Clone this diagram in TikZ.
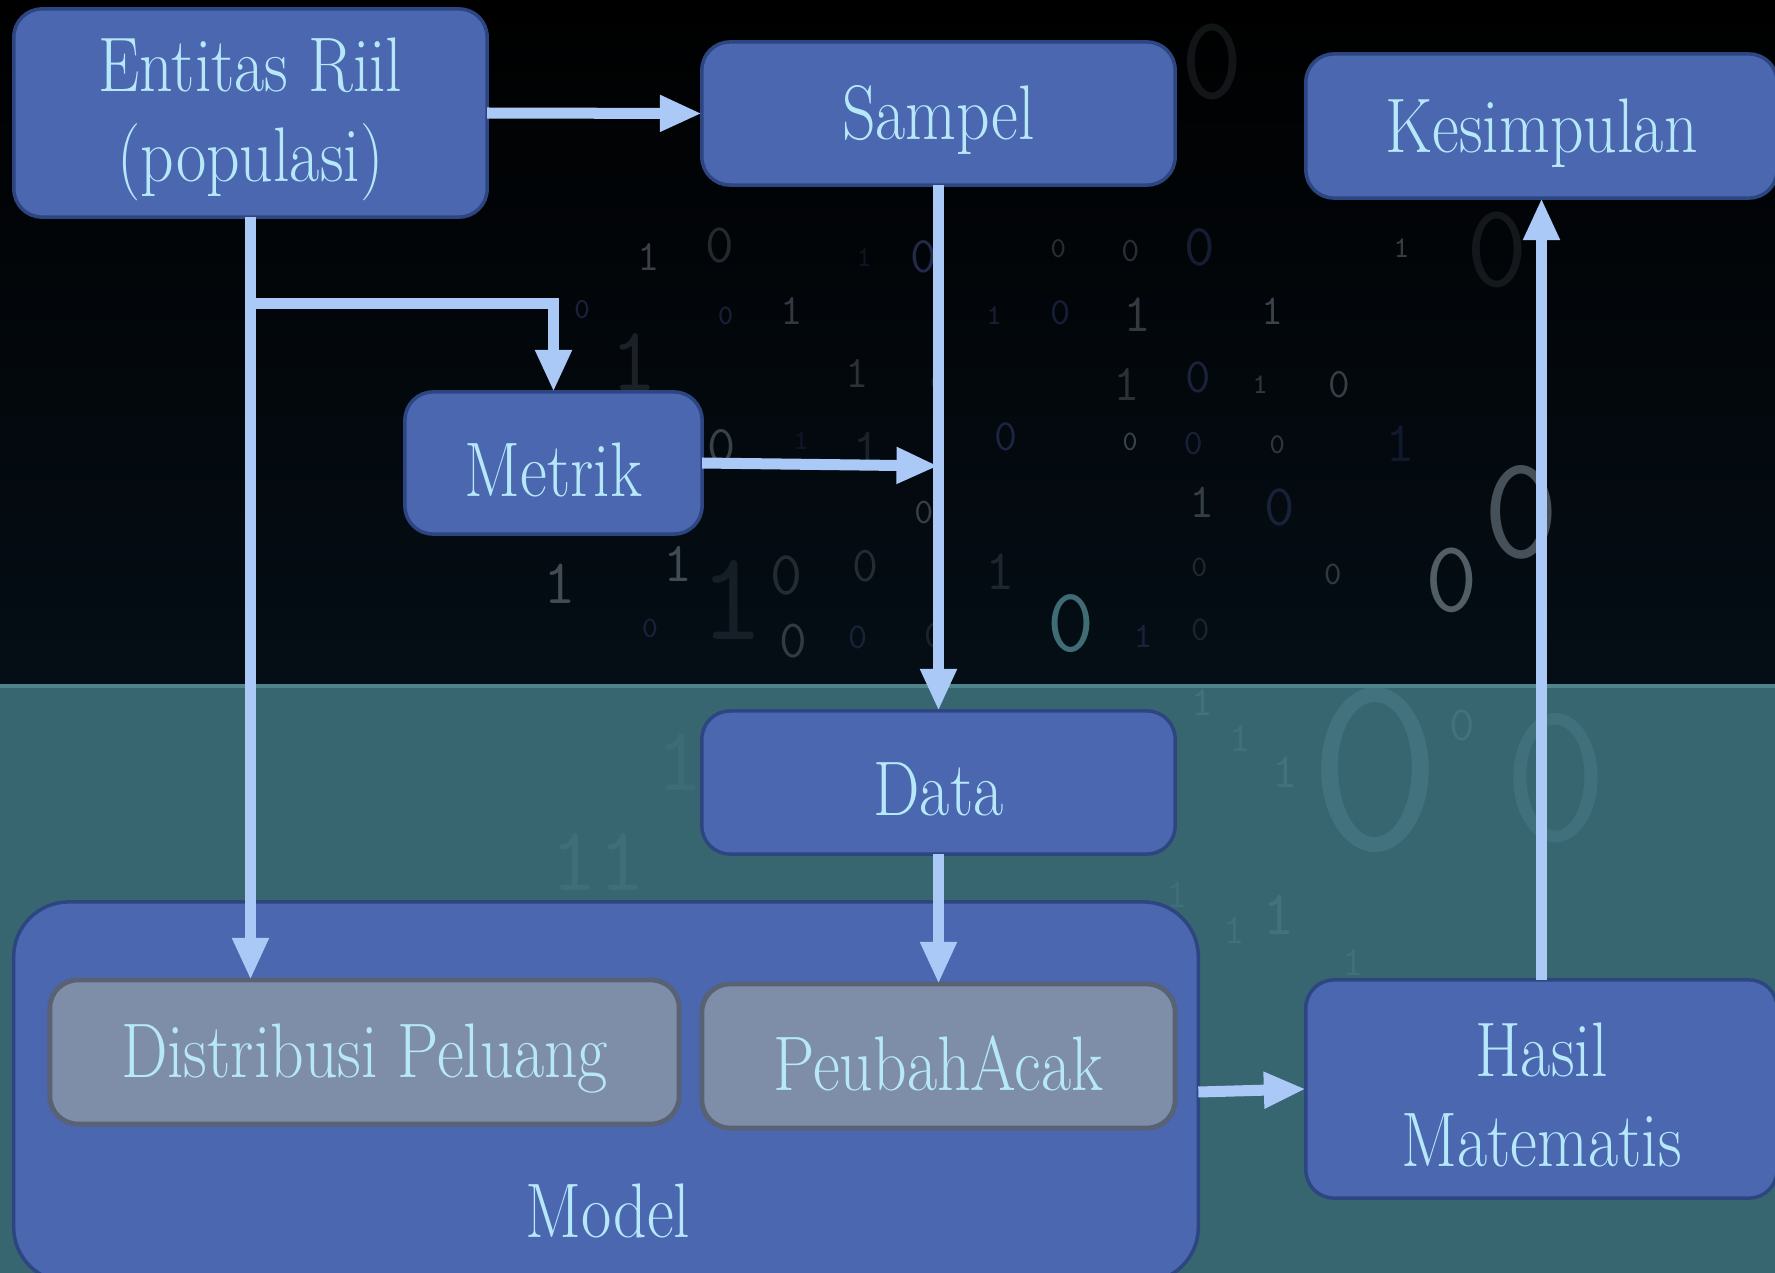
\documentclass[tikz,border=0pt]{standalone}
\usepackage{fontspec}
\setmainfont{lmroman17-regular.otf}[FakeStretch=0.85]
\usetikzlibrary{arrows.meta,calc}

\definecolor{boxfill}{RGB}{74,103,176}
\definecolor{boxline}{RGB}{45,70,130}
\definecolor{greyfill}{RGB}{127,142,168}
\definecolor{greyline}{RGB}{88,98,116}
\definecolor{labeltext}{RGB}{182,232,250}
\definecolor{arrowc}{RGB}{170,201,247}
\definecolor{seabg}{RGB}{55,101,112}
\definecolor{seaedge}{RGB}{80,132,140}
\definecolor{nightblue}{RGB}{5,14,22}
\definecolor{digitgrey}{RGB}{125,138,148}
\definecolor{digitblue}{RGB}{70,85,150}
\definecolor{digitsea}{RGB}{85,140,150}

\tikzset{
  box/.style={draw=boxline, fill=boxfill, line width=1pt, rounded corners=0.28cm,
    inner sep=0pt, outer sep=0pt},
  greybox/.style={box, draw=greyline, fill=greyfill, line width=1.4pt},
  boxtext/.style={text=labeltext, font=\fontsize{22}{25.5}\selectfont,
    align=center, inner sep=0pt},
  arr/.style={draw=arrowc, line width=0.11cm,
    -{Triangle[length=0.42cm,width=0.34cm]}},
  digit/.style={font=\ttfamily, inner sep=0pt},
}

\begin{document}
\begin{tikzpicture}[x=0.01cm, y=-0.01cm]
\useasboundingbox (0,0) rectangle (1775,1273);

% night sky and sea-green floor
\fill[top color=black, bottom color=nightblue] (0,0) rectangle (1775,685);
\fill[seabg] (0,685) rectangle (1775,1273);
\draw[seaedge, line width=1.2pt] (0,686) -- (1775,686);

% falling binary digits in the dark band, one per grid cell,
% leaving room around the larger hand-placed digits and the boxes
\begin{scope}
  \clip (0,0) rectangle (1775,684);
  \pgfmathsetseed{7}
  \foreach \cx in {0,...,13}{
    \foreach \cy in {0,...,7}{
      \pgfmathsetmacro\keep{rnd}
      \pgfmathsetmacro\dx{580+\cx*68+rnd*20}
      \pgfmathsetmacro\dy{180+\cy*64+rnd*14}
      \pgfmathsetmacro\ds{8+rnd^2*10}
      \pgfmathsetmacro\dop{0.18+rnd*0.3}
      \pgfmathtruncatemacro\dd{rnd<0.55?0:1}
      \pgfmathtruncatemacro\blue{rnd<0.25?1:0}
      \pgfmathtruncatemacro\near{
        (abs(\dx-1522)<75 && abs(\dy-512)<95) ||
        (abs(\dx-1452)<60 && abs(\dy-580)<75) ||
        (abs(\dx-1071)<55 && abs(\dy-624)<70) ||
        (abs(\dx-560)<45 && abs(\dy-584)<60) ||
        (abs(\dx-678)<45 && abs(\dy-564)<60) ||
        (abs(\dx-634)<50 && abs(\dy-362)<70) ||
        (abs(\dx-732)<50 && abs(\dy-600)<80) ||
        (abs(\dx-1497)<70 && abs(\dy-250)<100) ||
        (\dx<720 && \dy>375 && \dy<550) ||
        (\dy<205) ? 1 : 0}
      \ifdim\keep pt<0.55pt
      \ifnum\near=0
        \ifnum\blue=1
          \node[digit, text=digitblue, opacity=\dop,
            font=\ttfamily\fontsize{\ds}{\ds}\selectfont] (g\cx-\cy) at (\dx,\dy) {\dd};
        \else
          \node[digit, text=digitgrey, opacity=\dop,
            font=\ttfamily\fontsize{\ds}{\ds}\selectfont] (g\cx-\cy) at (\dx,\dy) {\dd};
        \fi
      \fi
      \fi
    }
  }
  \node[digit, text=digitgrey, opacity=0.2, font=\ttfamily\fontsize{26}{26}\selectfont] (n1) at (634,362) {1};
  \node[digit, text=digitgrey, opacity=0.55, font=\ttfamily\fontsize{42}{42}\selectfont] (n2) at (1522,512) {0};
  \node[digit, text=digitgrey, opacity=0.65, font=\ttfamily\fontsize{29}{29}\selectfont] (n3) at (1452,580) {0};
  \node[digit, text=digitgrey, opacity=0.15, font=\ttfamily\fontsize{36}{36}\selectfont] (n4) at (732,600) {1};
  \node[digit, text=digitsea, opacity=0.75, font=\ttfamily\fontsize{26}{26}\selectfont] (n5) at (1071,624) {0};
  \node[digit, text=digitgrey, opacity=0.15, font=\ttfamily\fontsize{34}{34}\selectfont] (n6) at (1212,62) {0};
  \node[digit, text=digitgrey, opacity=0.15, font=\ttfamily\fontsize{34}{34}\selectfont] (n7) at (1497,250) {0};
  \node[digit, text=digitgrey, opacity=0.5, font=\ttfamily\fontsize{18}{18}\selectfont] (n8) at (560,584) {1};
  \node[digit, text=digitgrey, opacity=0.5, font=\ttfamily\fontsize{16}{16}\selectfont] (n9) at (678,564) {1};
\end{scope}

% faint digits drifting into the sea-green band
\begin{scope}
  \clip (0,688) rectangle (1775,1273);
  \node[digit, text=digitsea, opacity=0.35, font=\ttfamily\fontsize{74}{74}\selectfont] (m1) at (1375,770) {0};
  \node[digit, text=digitsea, opacity=0.3, font=\ttfamily\fontsize{58}{58}\selectfont] (m2) at (1556,778) {0};
  \node[digit, text=digitsea, opacity=0.25, font=\ttfamily\fontsize{26}{26}\selectfont] (m3) at (598,862) {11};
  \node[digit, text=digitsea, opacity=0.2, font=\ttfamily\fontsize{26}{26}\selectfont] (m4) at (680,762) {1};
  \node[digit, text=digitsea, opacity=0.35, font=\ttfamily\fontsize{12}{12}\selectfont] (t1) at (1202,702) {1};
  \node[digit, text=digitsea, opacity=0.3, font=\ttfamily\fontsize{12}{12}\selectfont] (t2) at (1240,738) {1};
  \node[digit, text=digitsea, opacity=0.35, font=\ttfamily\fontsize{14}{14}\selectfont] (t3) at (1285,772) {1};
  \node[digit, text=digitsea, opacity=0.25, font=\ttfamily\fontsize{12}{12}\selectfont] (t4) at (1177,894) {1};
  \node[digit, text=digitsea, opacity=0.35, font=\ttfamily\fontsize{18}{18}\selectfont] (t5) at (1279,915) {1};
  \node[digit, text=digitsea, opacity=0.3, font=\ttfamily\fontsize{12}{12}\selectfont] (t6) at (1234,930) {1};
  \node[digit, text=digitsea, opacity=0.3, font=\ttfamily\fontsize{12}{12}\selectfont] (t7) at (1353,962) {1};
  \node[digit, text=digitsea, opacity=0.35, font=\ttfamily\fontsize{14}{14}\selectfont] (t8) at (1462,725) {0};
\end{scope}

% boxes
\node[box, minimum width=4.73cm, minimum height=2.08cm] (ent) at (250.5,113) {};
\node[box, minimum width=4.73cm, minimum height=1.43cm] (sam) at (938.5,113.5) {};
\node[box, minimum width=4.71cm, minimum height=1.44cm] (kes) at (1541.5,126) {};
\node[box, minimum width=2.97cm, minimum height=1.42cm] (met) at (553.5,463) {};
\node[box, minimum width=4.73cm, minimum height=1.43cm] (dat) at (938.5,782.5) {};
\node[box, rounded corners=0.55cm, minimum width=11.84cm, minimum height=3.80cm] (mod) at (606,1092) {};
\node[greybox, minimum width=6.29cm, minimum height=1.44cm] (dis) at (364.5,1052) {};
\node[greybox, minimum width=4.73cm, minimum height=1.44cm] (peu) at (938.5,1056) {};
\node[box, minimum width=4.71cm, minimum height=2.18cm] (has) at (1541.5,1089) {};

% box labels
\node[boxtext] (entt) at ([yshift=-0.06cm]ent.center) {Entitas Riil\\(populasi)};
\node[boxtext] (samt) at ([yshift=-0.07cm]sam.center) {Sampel};
\node[boxtext] (kest) at ([yshift=-0.07cm]kes.center) {Kesimpulan};
\node[boxtext] (mett) at ([yshift=-0.07cm]met.center) {Metrik};
\node[boxtext] (datt) at ([yshift=-0.07cm]dat.center) {Data};
\node[boxtext] (modt) at (608,1211) {Model};
\node[boxtext] (dist) at ([yshift=-0.07cm]dis.center) {Distribusi Peluang};
\node[boxtext] (peut) at ([yshift=-0.07cm]peu.center) {PeubahAcak};
\node[boxtext] (hast) at ([yshift=-0.06cm]has.center) {Hasil\\Matematis};

% connectors
\coordinate (brk) at ([yshift=-0.86cm]ent.south);
\coordinate (mj) at ([yshift=-0.03cm]sam.south |- met.east);
\draw[arr] (ent.east) -- (sam.west);
\draw[arr] (ent.south) -- (ent.south |- dis.north);
\draw[arr] (brk) -| (met.north);
\draw[arr] (sam.south) -- (dat.north);
\draw[arr] (met.east) -- (mj);
\draw[arr] (dat.south) -- (peu.north);
\draw[arr] (mod.east) -- (has.west);
\draw[arr] (has.north) -- (kes.south);
\end{tikzpicture}
\end{document}
